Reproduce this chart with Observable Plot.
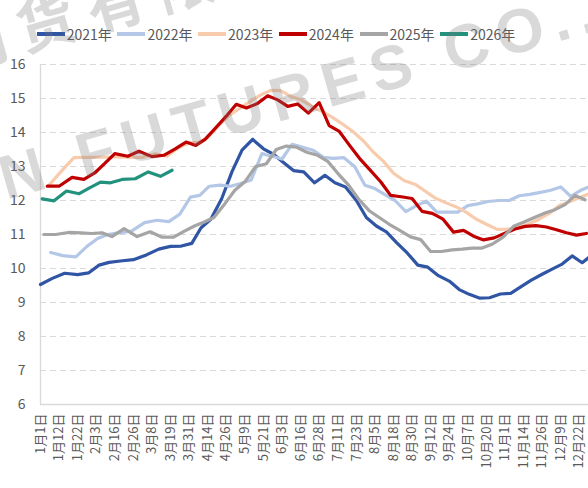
<!DOCTYPE html>
<html><head><meta charset="utf-8">
<script src="https://cdn.jsdelivr.net/npm/d3@7"></script>
<script src="https://cdn.jsdelivr.net/npm/@observablehq/plot@0.6"></script>
<style>
body{margin:0;background:#fff;}
#wrap{position:relative;width:588px;height:488px;overflow:hidden;font-family:"Noto Sans CJK SC","Noto Sans",sans-serif;}
#legend{position:absolute;left:0;top:0;width:588px;height:50px;}
.item{position:absolute;top:24px;height:20px;display:flex;align-items:center;font-size:14px;color:#595959;white-space:nowrap;}
.sw{width:28px;height:3.5px;margin-right:2px;}
#chart{position:absolute;left:0;top:50px;}
.wm{position:absolute;white-space:nowrap;font-weight:bold;color:rgba(120,120,120,0.28);transform-origin:0 0;pointer-events:none;line-height:1;}
</style></head>
<body><div id="wrap"><div id="legend"></div><div id="chart"></div>
<div class="wm" style="left:-60px;top:20px;font-size:58px;font-family:'Noto Sans CJK SC';letter-spacing:14px;transform:rotate(-16deg);">期货有限公司</div>
<div class="wm" style="left:-8px;top:150px;font-size:62px;font-family:'Liberation Sans Narrow','Liberation Sans';letter-spacing:9px;transform:rotate(-16deg);">N FUTURES CO.,LTD</div>
</div>
<script>
const labels = ["1月1日","1月12日","1月22日","2月3日","2月16日","2月26日","3月8日","3月19日","3月31日","4月14日","4月26日","5月9日","5月21日","6月3日","6月16日","6月28日","7月11日","7月23日","8月5日","8月18日","8月30日","9月12日","9月24日","10月7日","10月20日","11月1日","11月14日","11月26日","12月9日","12月22日"];
const yTicks = [6,7,8,9,10,11,12,13,14,15,16];
const years = ["2021年","2022年","2023年","2024年","2025年","2026年"];
const colors = ["#2F55A4","#B4C7E7","#F8CBAD","#C00000","#A5A5A5","#22917E"];
const starts = ["2021-01-01","2022-01-07","2023-01-06","2024-01-05","2025-01-03","2026-01-02"];

const v2021 = [9.53,9.71,9.86,9.82,9.87,10.1,10.18,10.22,10.26,10.4,10.57,10.65,10.66,10.74,11.2,11.45,12.05,12.85,13.48,13.8,13.52,13.36,13.12,12.88,12.84,12.52,12.74,12.52,12.4,12.0,11.5,11.25,11.08,10.76,10.45,10.1,10.04,9.79,9.63,9.38,9.24,9.13,9.14,9.25,9.27,9.46,9.66,9.83,9.98,10.13,10.37,10.17,10.4];
const v2022 = [10.47,10.38,10.34,10.65,10.88,11.0,11.05,11.1,11.35,11.42,11.38,11.6,12.1,12.15,12.42,12.45,12.42,12.5,12.6,13.38,13.3,13.22,13.65,13.57,13.48,13.27,13.24,13.26,12.99,12.45,12.35,12.17,12.0,11.67,11.85,11.98,11.66,11.66,11.66,11.85,11.9,11.97,12.0,12.0,12.14,12.18,12.24,12.3,12.4,12.12,12.3,12.42];
const v2023 = [12.45,12.85,13.26,13.27,13.27,13.28,13.28,13.27,13.27,13.37,13.3,13.55,13.7,13.7,13.85,14.2,14.5,14.7,14.9,15.1,15.24,15.23,15.06,14.97,14.78,14.62,14.45,14.25,14.02,13.75,13.42,13.15,12.8,12.58,12.48,12.28,12.07,11.93,11.81,11.65,11.45,11.3,11.15,11.16,11.2,11.3,11.45,11.62,11.85,11.96,12.08,12.2];
const v2024 = [12.42,12.42,12.68,12.62,12.81,13.09,13.38,13.3,13.45,13.29,13.33,13.52,13.72,13.62,13.8,14.13,14.48,14.83,14.72,14.85,15.08,14.96,14.77,14.84,14.57,14.88,14.2,14.03,13.6,13.2,12.88,12.55,12.15,12.11,12.06,11.68,11.62,11.45,11.07,11.12,10.95,10.84,10.9,11.04,11.16,11.24,11.26,11.22,11.14,11.05,10.98,11.03];
const v2025 = [11.0,11.0,11.06,11.05,11.03,11.05,10.94,11.17,10.94,11.08,10.92,10.92,11.1,11.25,11.36,11.5,11.9,12.3,12.55,13.0,13.08,13.5,13.6,13.57,13.42,13.33,13.15,12.8,12.45,12.02,11.7,11.5,11.3,11.12,10.93,10.85,10.5,10.5,10.55,10.57,10.6,10.6,10.72,10.93,11.24,11.36,11.5,11.63,11.73,11.88,12.15,12.02];
const v2026 = [12.05,11.99,12.28,12.2,12.38,12.54,12.52,12.62,12.64,12.84,12.71,12.89];
const values = [v2021,v2022,v2023,v2024,v2025,v2026];

// month-day -> day index in a common (non-leap) year
const ref0 = new Date(2023,0,1);
const doy = (m,d) => d3.timeDay.count(ref0, new Date(2023,m,d));
const labelDays = labels.map(s => { const m = s.match(/(\d+)月(\d+)日/); return doy(+m[1]-1, +m[2]); });
// category axis: labels evenly spaced, dates between them placed proportionally
const pos = d3.scaleLinear().domain(labelDays).range(d3.range(labels.length));
const parse = d3.timeParse("%Y-%m-%d");

const rows = [];
years.forEach((yr,k) => {
  const s = parse(starts[k]);
  values[k].forEach((v,i) => {
    const dt = d3.timeDay.offset(s, 7*i);
    rows.push({year: yr, x: pos(doy(dt.getMonth(), dt.getDate())), y: v});
  });
});

const chart = Plot.plot({
  width: 588, height: 438,
  marginLeft: 40, marginRight: 0, marginTop: 14, marginBottom: 84,
  style: {fontFamily: "'Noto Sans CJK SC','Noto Sans',sans-serif", background: "transparent", overflow: "hidden"},
  x: {type: "linear", domain: [0, labels.length-1], range: [40, 578.8], axis: null},
  y: {domain: [6, 16], range: [354, 14], axis: null},
  color: {domain: years, range: colors},
  marks: [
    Plot.ruleY(yTicks.filter(t => t > 6), {stroke: "#d9d9d9", strokeWidth: 1, strokeDasharray: "6,4"}),
    Plot.ruleY([6], {stroke: "#d9d9d9", strokeWidth: 1.3}),
    Plot.ruleX([0], {stroke: "#d9d9d9", strokeWidth: 1.3}),
    Plot.axisY(yTicks, {tickSize: 0, tickPadding: 15, fontSize: 14, fill: "#595959", label: null}),
    Plot.axisX(d3.range(labels.length), {tickFormat: i => labels[i], tickRotate: -90, tickSize: 0, tickPadding: 9, fontSize: 13, fill: "#595959", label: null}),
    Plot.line(rows, {x: "x", y: "y", z: "year", stroke: "year", strokeWidth: 3.2, strokeLinejoin: "round", strokeLinecap: "round"})
  ]
});
document.getElementById("chart").appendChild(chart);

const lg = document.getElementById("legend");
years.forEach((yr,k) => {
  const it = document.createElement("div");
  it.className = "item";
  it.style.left = (36.7 + k*80.7) + "px";
  it.innerHTML = `<span class="sw" style="background:${colors[k]}"></span><span>${yr}</span>`;
  lg.appendChild(it);
});
</script></body></html>
